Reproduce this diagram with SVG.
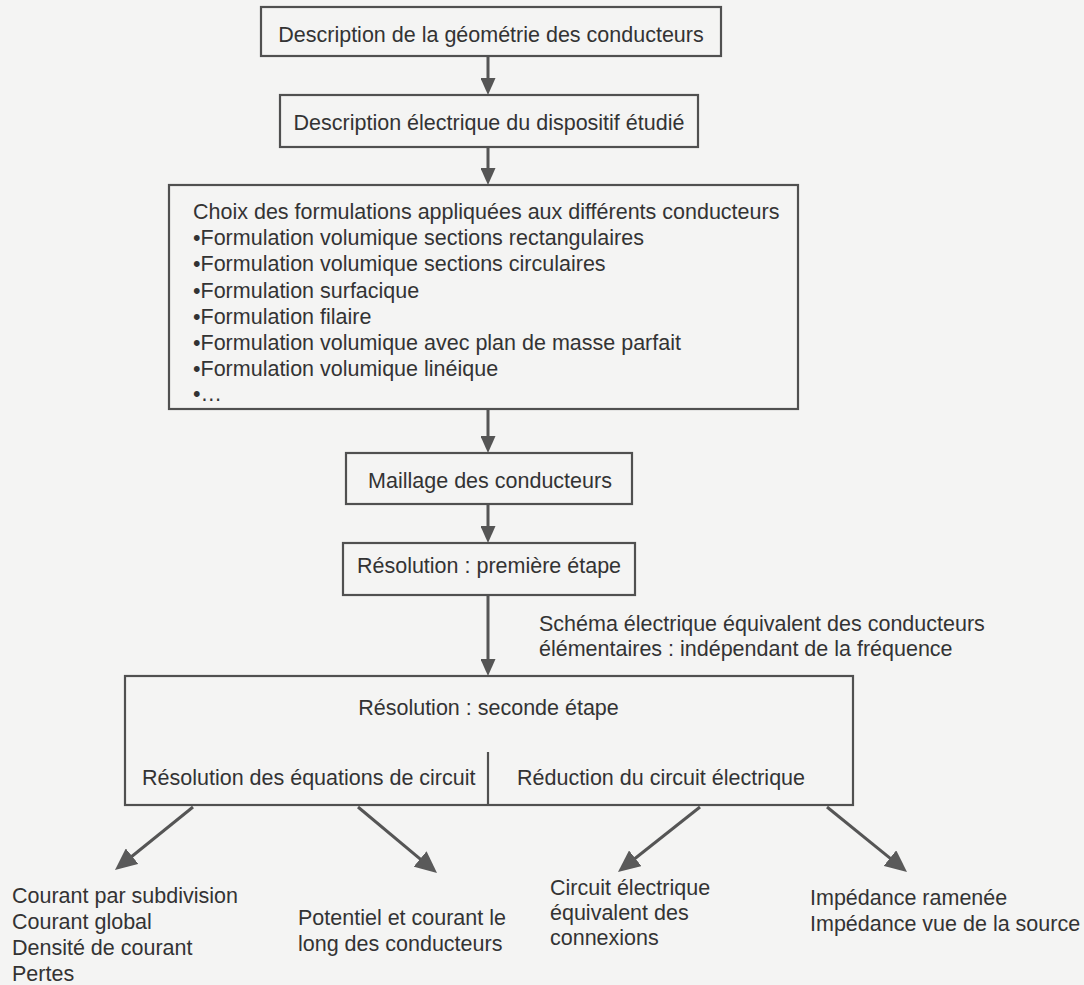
<svg xmlns="http://www.w3.org/2000/svg" width="1084" height="985" viewBox="0 0 1084 985">
<style>
.box{fill:#f4f4f3;stroke:#505050;stroke-width:2.2}
.t{font-family:"Liberation Sans",Arial,sans-serif;font-size:21.5px;fill:#333}
.c{text-anchor:middle}
.ln{stroke:#555;stroke-width:3;fill:none}
</style>
<defs>
<marker id="ah" markerUnits="userSpaceOnUse" markerWidth="17" markerHeight="15" refX="7" refY="7.5" orient="auto"><path d="M0,0 L17,7.5 L0,15 z" fill="#555"/></marker>
<marker id="ahb" markerUnits="userSpaceOnUse" markerWidth="22" markerHeight="20" refX="10" refY="10" orient="auto"><path d="M0,0 L22,10 L0,20 z" fill="#5a5a5a"/></marker>
</defs>
<rect x="0" y="0" width="1084" height="985" fill="#f4f4f3"/>
<g id="connectors">
<line class="ln" x1="488" y1="56" x2="488" y2="85" marker-end="url(#ah)"/>
<line class="ln" x1="488" y1="147" x2="488" y2="175" marker-end="url(#ah)"/>
<line class="ln" x1="488" y1="409" x2="488" y2="443" marker-end="url(#ah)"/>
<line class="ln" x1="488" y1="504" x2="488" y2="533" marker-end="url(#ah)"/>
<line class="ln" x1="488" y1="595" x2="488" y2="666" marker-end="url(#ah)"/>
<line class="ln" x1="193" y1="807" x2="124.3" y2="862.5" marker-end="url(#ahb)"/>
<line class="ln" x1="358" y1="807" x2="427.8" y2="865.3" marker-end="url(#ahb)"/>
<line class="ln" x1="700" y1="807" x2="627.4" y2="864.5" marker-end="url(#ahb)"/>
<line class="ln" x1="827" y1="807" x2="897.7" y2="864.4" marker-end="url(#ahb)"/>
</g>
<g id="n1">
<rect class="box" x="261" y="7" width="460" height="49"/>
<text class="t c" x="491" y="42">Description de la géométrie des conducteurs</text>
</g>
<g id="n2">
<rect class="box" x="280" y="95" width="418" height="52"/>
<text class="t c" x="489" y="130">Description électrique du dispositif étudié</text>
</g>
<g id="n3">
<rect class="box" x="169" y="185" width="629" height="224"/>
<text class="t" x="193" y="219">Choix des formulations appliquées aux différents conducteurs</text>
<text class="t" x="193" y="245">•Formulation volumique sections rectangulaires</text>
<text class="t" x="193" y="271">•Formulation volumique sections circulaires</text>
<text class="t" x="193" y="298">•Formulation surfacique</text>
<text class="t" x="193" y="324">•Formulation filaire</text>
<text class="t" x="193" y="350">•Formulation volumique avec plan de masse parfait</text>
<text class="t" x="193" y="376">•Formulation volumique linéique</text>
<text class="t" x="193" y="401">•…</text>
</g>
<g id="n4">
<rect class="box" x="346" y="453" width="286" height="51"/>
<text class="t c" x="490" y="488">Maillage des conducteurs</text>
</g>
<g id="n5">
<rect class="box" x="343" y="543" width="292" height="52"/>
<text class="t c" x="489" y="573">Résolution : première étape</text>
</g>
<g id="lbl">
<text class="t" x="539" y="631">Schéma électrique équivalent des conducteurs</text>
<text class="t" x="539" y="656">élémentaires : indépendant de la fréquence</text>
</g>
<g id="n6">
<rect class="box" x="125" y="676" width="728" height="129"/>
<text class="t c" x="488.5" y="715">Résolution : seconde étape</text>
<line x1="488" y1="752" x2="488" y2="805" stroke="#505050" stroke-width="2.2"/>
<text class="t" x="142" y="785">Résolution des équations de circuit</text>
<text class="t" x="517" y="785">Réduction du circuit électrique</text>
</g>
<g id="o1">
<text class="t" x="12" y="903">Courant par subdivision</text>
<text class="t" x="12" y="929">Courant global</text>
<text class="t" x="12" y="955">Densité de courant</text>
<text class="t" x="12" y="981">Pertes</text>
</g>
<g id="o2">
<text class="t" x="298" y="925">Potentiel et courant le</text>
<text class="t" x="298" y="951">long des conducteurs</text>
</g>
<g id="o3">
<text class="t" x="550" y="895">Circuit électrique</text>
<text class="t" x="550" y="920">équivalent des</text>
<text class="t" x="550" y="945">connexions</text>
</g>
<g id="o4">
<text class="t" x="810" y="905">Impédance ramenée</text>
<text class="t" x="810" y="931">Impédance vue de la source</text>
</g>
</svg>
